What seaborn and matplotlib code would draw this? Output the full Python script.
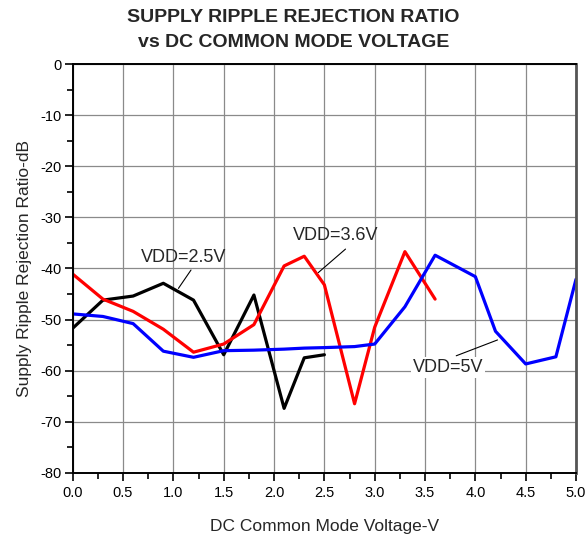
import pandas as pd
import matplotlib
matplotlib.use("Agg")
import matplotlib.pyplot as plt
import seaborn as sns

# values (V, dB)
vdd25_v = [0.0, 0.3, 0.6, 0.9, 1.2, 1.5, 1.8, 2.1, 2.3, 2.5]
vdd25_db = [-51.7, -46.2, -45.4, -42.9, -46.2, -56.9, -45.2, -67.4, -57.5, -56.9]

vdd36_v = [0.0, 0.3, 0.6, 0.9, 1.2, 1.5, 1.8, 2.1, 2.3, 2.5, 2.8, 3.0, 3.3, 3.6]
vdd36_db = [-41.1, -46.0, -48.4, -51.9, -56.4, -54.8, -51.0, -39.5, -37.6, -43.2,
            -66.5, -51.5, -36.7, -46.0]

vdd5_v = [0.0, 0.3, 0.6, 0.9, 1.2, 1.5, 1.8, 2.1, 2.3, 2.5, 2.8, 3.0, 3.3, 3.6,
          4.0, 4.2, 4.5, 4.8, 5.0]
vdd5_db = [-48.9, -49.4, -50.8, -56.2, -57.4, -56.1, -56.0, -55.8, -55.6, -55.5,
           -55.3, -54.8, -47.5, -37.4, -41.6, -52.3, -58.7, -57.3, -42.1]

series = ["VDD=2.5V", "VDD=3.6V", "VDD=5V"]
colors = ["#000000", "#ff0000", "#0000ff"]

df = pd.concat([
    pd.DataFrame({"v": vdd25_v, "db": vdd25_db, "s": series[0]}),
    pd.DataFrame({"v": vdd36_v, "db": vdd36_db, "s": series[1]}),
    pd.DataFrame({"v": vdd5_v, "db": vdd5_db, "s": series[2]}),
])

sns.set_style("ticks")
plt.rcParams['font.family'] = ['Liberation Sans', 'DejaVu Sans']
plt.rcParams['axes.unicode_minus'] = False

fig = plt.figure(figsize=(5.87, 5.42), dpi=100)
ax = fig.add_axes([0.1239, 0.1279, 0.8574, 0.7535])

sns.lineplot(data=df, x="v", y="db", hue="s", palette=colors, lw=2.3,
             legend=False, ax=ax, sort=False, estimator=None)

ax.set_xlim(0, 5)
ax.set_ylim(-80, 0)
ax.set_xticks([i * 0.5 for i in range(11)])
ax.set_xticklabels([f"{i * 0.5:.1f}" for i in range(11)])
ax.set_yticks(range(-80, 1, 10))
ax.set_xticks([0.25 + i * 0.5 for i in range(10)], minor=True)
ax.set_yticks(range(-75, 0, 10), minor=True)
ax.grid(True, which="major", color="#8a8a8a", lw=0.9)
ax.set_axisbelow(True)
ax.tick_params(which="major", direction="out", length=6, width=1.2,
               labelsize=10.5, color="black", labelcolor="black")
ax.tick_params(which="minor", direction="out", length=4, width=1.2, color="black")
ax.tick_params(axis="y", pad=2)
for side in ["left", "bottom", "top"]:
    ax.spines[side].set_color("black")
    ax.spines[side].set_linewidth(1.4)
ax.spines["right"].set_color("#555555")
ax.spines["right"].set_linewidth(2)

ax.set_xlabel("DC Common Mode Voltage-V", fontsize=12.5, labelpad=14)
ax.set_ylabel("Supply Ripple Rejection Ratio-dB", fontsize=12.5, labelpad=6)

fig.text(0.5, 1 - 17 / 542, "SUPPLY RIPPLE REJECTION RATIO", ha="center",
         va="center", fontsize=14, fontweight="bold")
fig.text(0.5, 1 - 42 / 542, "vs DC COMMON MODE VOLTAGE", ha="center",
         va="center", fontsize=14, fontweight="bold")

# callouts
ax.text(1.10, -37.8, "VDD=2.5V", ha="center", va="center", fontsize=13)
ax.annotate("", xy=(1.05, -43.9), xytext=(1.175, -40.3),
            arrowprops=dict(arrowstyle="-", lw=0.8, color="black",
                            shrinkA=0, shrinkB=0))
ax.text(2.61, -33.5, "VDD=3.6V", ha="center", va="center", fontsize=13)
ax.annotate("", xy=(2.44, -40.8), xytext=(2.71, -36.2),
            arrowprops=dict(arrowstyle="-", lw=0.8, color="black",
                            shrinkA=0, shrinkB=0))
ax.text(3.73, -59.4, "VDD=5V", ha="center", va="center", fontsize=13,
        bbox=dict(boxstyle="square,pad=0.1", fc="white", ec="none"))
ax.annotate("", xy=(4.22, -54.0), xytext=(3.81, -57.1),
            arrowprops=dict(arrowstyle="-", lw=0.8, color="black",
                            shrinkA=0, shrinkB=0))

fig.savefig("out.png", dpi=100)
